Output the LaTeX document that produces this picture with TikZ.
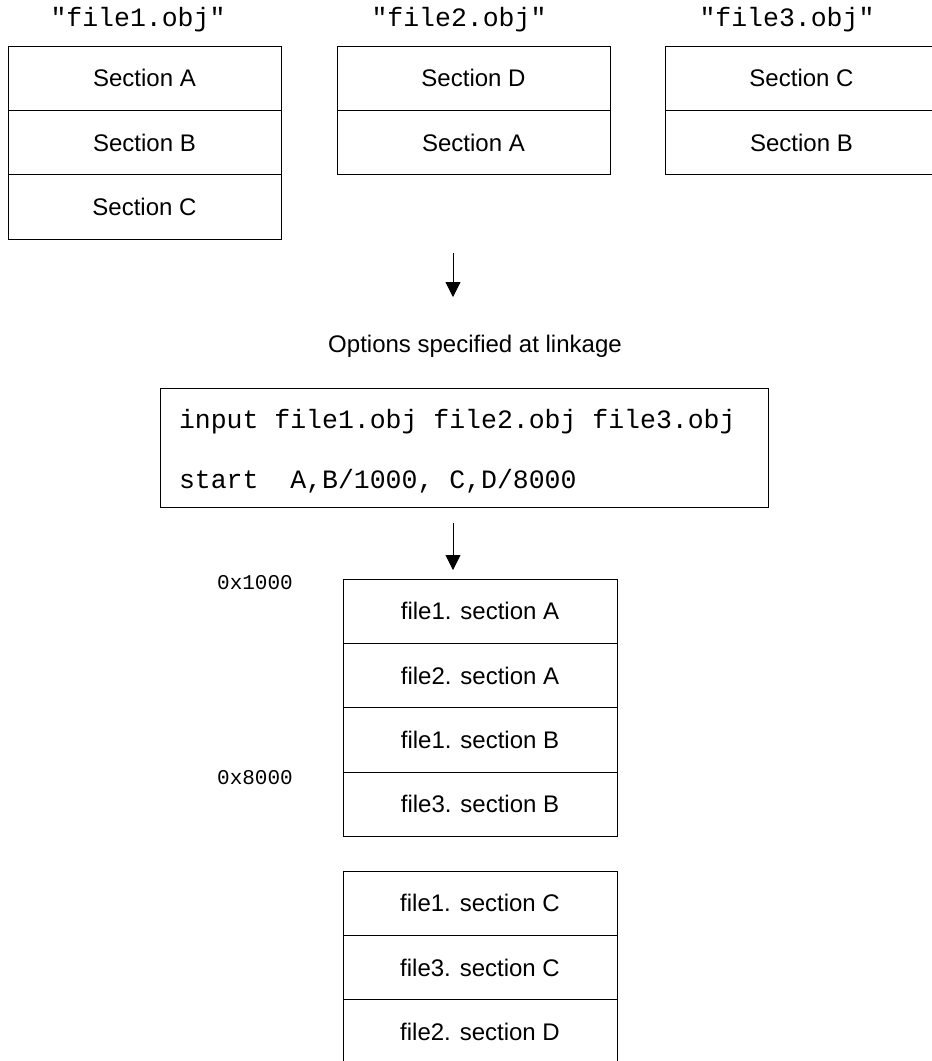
\documentclass[tikz,border=0pt]{standalone}
\usepackage{fontspec}
\setmainfont{Liberation Sans}
\setmonofont{Liberation Mono}
\usepackage{tikz}
\usetikzlibrary{positioning,arrows.meta}
\newcommand{\objname}[1]{\texttt{"#1"}}

\begin{document}
\begin{tikzpicture}[x=1pt,y=-1pt,every node/.style={font=\fontsize{24}{28}\selectfont,inner sep=0pt,outer sep=0pt},
    sect/.style={draw,line width=1pt,minimum width=273pt,minimum height=64.4pt},
    mem/.style={sect,minimum width=274pt},
    fname/.style={font=\ttfamily\fontsize{26.5}{30}\selectfont,anchor=base},
    code/.style={font=\ttfamily\fontsize{26.5}{30}\selectfont,anchor=base west},
    addr/.style={font=\ttfamily\fontsize{21}{24}\selectfont,anchor=base},
    flow/.style={-{Triangle[width=15pt,length=15pt]},line width=0.8pt}]
    \useasboundingbox (0,0) rectangle (932,1061);
    % object files
    \node[fname] (name1) at (138,26) {\objname{file1.obj}};
    \node[fname] (name2) at (459,26) {\objname{file2.obj}};
    \node[fname] (name3) at (787,26) {\objname{file3.obj}};
    \node[sect,anchor=north west] (f1a) at (8,46) {Section A};
    \node[sect,below=0pt of f1a] (f1b) {Section B};
    \node[sect,below=0pt of f1b] (f1c) {Section C};
    \node[sect,anchor=north west] (f2d) at (337,46) {Section D};
    \node[sect,below=0pt of f2d] (f2a) {Section A};
    \node[sect,anchor=north west] (f3c) at (665,46) {Section C};
    \node[sect,below=0pt of f3c] (f3b) {Section B};
    \coordinate (in1) at (453,253);
    \coordinate (out1) at (453,297);
    \draw[flow] (in1) -- (out1);
    % linkage options
    \node[anchor=base] (optlabel) at (475,352) {Options specified at linkage};
    \node[draw,line width=1pt,minimum width=608pt,minimum height=119pt,anchor=north west] (opts) at (160,388) {};
    \node[code] (cmdinput) at (179,428) {input file1.obj file2.obj file3.obj};
    \node[code] (cmdstart) at (179,488) {start\ \ A,B/1000, C,D/8000};
    \coordinate (in2) at (453,523);
    \coordinate (out2) at (453,570);
    \draw[flow] (in2) -- (out2);
    % linked result
    \node[mem,anchor=north west] (m1a) at (343,579) {file1. section A};
    \node[mem,below=0pt of m1a] (m2a) {file2. section A};
    \node[mem,below=0pt of m2a] (m1b) {file1. section B};
    \node[mem,below=0pt of m1b] (m3b) {file3. section B};
    \node[mem,anchor=north west] (m1c) at (343,871) {file1. section C};
    \node[mem,below=0pt of m1c] (m3c) {file3. section C};
    \node[mem,below=0pt of m3c] (m2d) {file2. section D};
    \node[addr] (addr1) at (255,589) {0x1000};
    \node[addr] (addr8) at (255,784) {0x8000};
  \end{tikzpicture}
\end{document}
